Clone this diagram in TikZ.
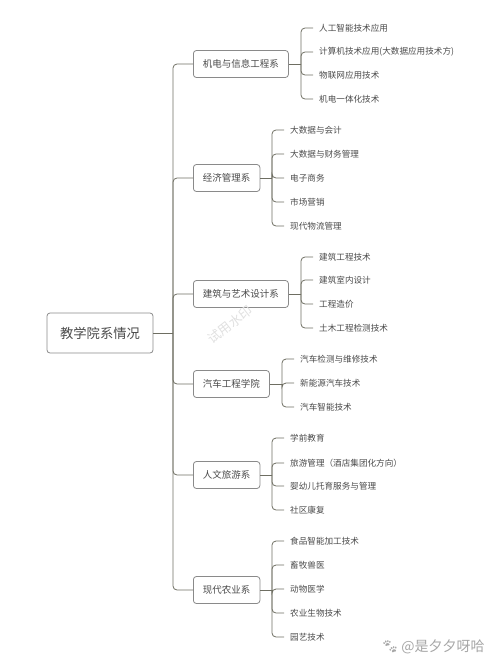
\documentclass[tikz,border=0pt]{standalone}
\usepackage{fontspec}
\setmainfont{Noto Sans CJK SC}
\newfontfamily\emojifont{Noto Emoji}
\definecolor{txt}{HTML}{4A4A4A}
\definecolor{ln}{HTML}{6E6E62}
\definecolor{bx}{HTML}{8A8A8A}
\begin{document}
\begin{tikzpicture}[x=1pt,y=-1pt,
  rootbox/.style={draw=bx,line width=0.8pt,rounded corners=3pt,fill=white,text=txt,font=\fontsize{13.3}{15}\selectfont,minimum width=106pt,minimum height=40pt,inner sep=0pt},
  branchbox/.style={draw=bx,line width=0.8pt,rounded corners=3pt,fill=white,text=txt,font=\fontsize{9.5}{11}\selectfont,minimum height=27pt,inner xsep=9.5pt,inner ysep=0pt,anchor=west},
  leaf/.style={text=txt,font=\fontsize{8.6}{10}\selectfont,anchor=west,inner xsep=6pt,inner ysep=1pt},
  conn/.style={draw=ln,line width=0.8pt,rounded corners=4pt}]
\useasboundingbox (0,0) rectangle (500,667);
% root
\node[rootbox] (root) at (100,333) {教学院系情况};
\coordinate (t) at (173,333);
% branches
\node[branchbox] (b1) at (193,64) {机电与信息工程系};
\node[branchbox] (b2) at (193,178) {经济管理系};
\node[branchbox] (b3) at (193,294) {建筑与艺术设计系};
\node[branchbox] (b4) at (193,384) {汽车工程学院};
\node[branchbox] (b5) at (193,475) {人文旅游系};
\node[branchbox] (b6) at (193,590) {现代农业系};
\draw[conn] (root.east) -- (t);
\foreach \b in {b1,b2,b3,b4,b5,b6} \draw[conn] (t) |- (\b.west);
% bracket points
\coordinate (k1) at (301,64);
\coordinate (k2) at (272,178);
\coordinate (k3) at (301,294);
\coordinate (k4) at (282,384);
\coordinate (k5) at (272,475);
\coordinate (k6) at (272,590);
\draw[conn] (b1.east) -- (k1);
\draw[conn] (b2.east) -- (k2);
\draw[conn] (b3.east) -- (k3);
\draw[conn] (b4.east) -- (k4);
\draw[conn] (b5.east) -- (k5);
\draw[conn] (b6.east) -- (k6);
% leaves 1
\node[leaf] (l11) at (313,28) {人工智能技术应用};
\node[leaf] (l12) at (313,52) {计算机技术应用(大数据应用技术方)};
\node[leaf] (l13) at (313,75) {物联网应用技术};
\node[leaf] (l14) at (313,99) {机电一体化技术};
\foreach \l in {l11,l12,l13,l14} \draw[conn] (k1) |- (\l.west);
% leaves 2
\node[leaf] (l21) at (284,130) {大数据与会计};
\node[leaf] (l22) at (284,154) {大数据与财务管理};
\node[leaf] (l23) at (284,178) {电子商务};
\node[leaf] (l24) at (284,202) {市场营销};
\node[leaf] (l25) at (284,226) {现代物流管理};
\foreach \l in {l21,l22,l23,l24,l25} \draw[conn] (k2) |- (\l.west);
% leaves 3
\node[leaf] (l31) at (313,257) {建筑工程技术};
\node[leaf] (l32) at (313,280) {建筑室内设计};
\node[leaf] (l33) at (313,304) {工程造价};
\node[leaf] (l34) at (313,328) {土木工程检测技术};
\foreach \l in {l31,l32,l33,l34} \draw[conn] (k3) |- (\l.west);
% leaves 4
\node[leaf] (l41) at (294,359) {汽车检测与维修技术};
\node[leaf] (l42) at (294,383) {新能源汽车技术};
\node[leaf] (l43) at (294,407) {汽车智能技术};
\foreach \l in {l41,l42,l43} \draw[conn] (k4) |- (\l.west);
% leaves 5
\node[leaf] (l51) at (284,438) {学前教育};
\node[leaf] (l52) at (284,463) {旅游管理（酒店集团化方向）};
\node[leaf] (l53) at (284,486) {婴幼儿托育服务与管理};
\node[leaf] (l54) at (284,510) {社区康复};
\foreach \l in {l51,l52,l53,l54} \draw[conn] (k5) |- (\l.west);
% leaves 6
\node[leaf] (l61) at (284,541) {食品智能加工技术};
\node[leaf] (l62) at (284,565) {畜牧兽医};
\node[leaf] (l63) at (284,589) {动物医学};
\node[leaf] (l64) at (284,613) {农业生物技术};
\node[leaf] (l65) at (284,637) {园艺技术};
\foreach \l in {l61,l62,l63,l64,l65} \draw[conn] (k6) |- (\l.west);
% watermarks
\node[text=black!12,font=\fontsize{13}{15}\selectfont,rotate=38] (wm1) at (230,325) {试用水印};
\node[text=black!35,font=\fontsize{14}{16}\selectfont,anchor=west,inner sep=0pt] (wm2) at (381,647) {{\emojifont 🐾}\,@是夕夕呀哈};
\end{tikzpicture}
\end{document}
